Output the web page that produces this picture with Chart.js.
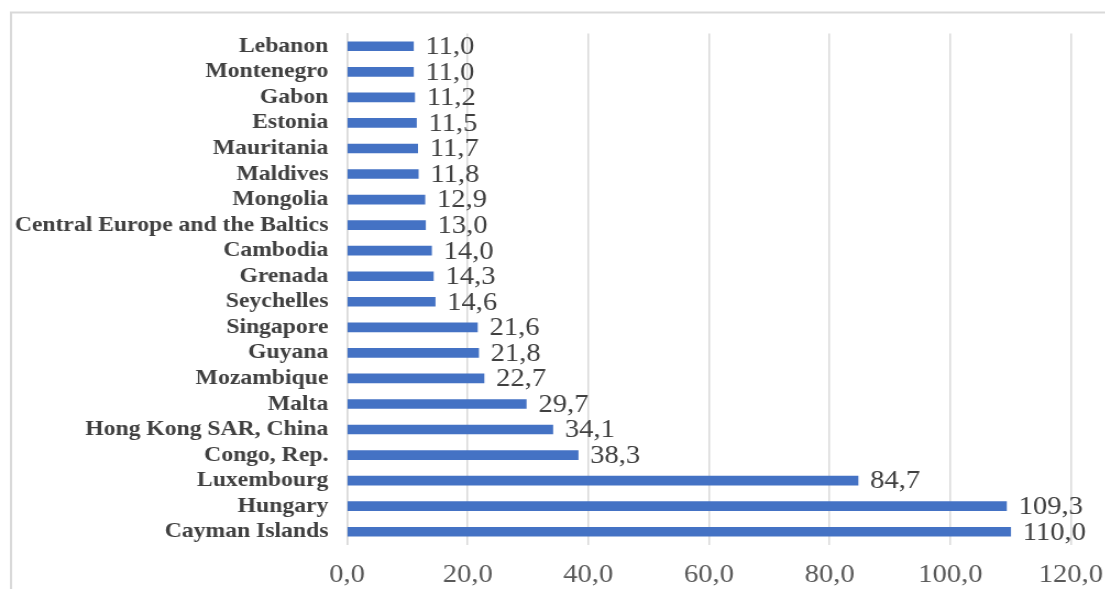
<!DOCTYPE html>
<html>
<head>
<meta charset="utf-8">
<script src="https://cdn.jsdelivr.net/npm/chart.js@4/dist/chart.umd.min.js"></script>
<style>
  html, body { margin: 0; padding: 0; background: #fff; overflow: hidden; }
  #wrap { position: absolute; left: 0; top: 0; width: 1005px; height: 589px;
          transform: scaleX(1.1); transform-origin: 0 0; }
</style>
</head>
<body>
<div id="wrap"><canvas id="c"></canvas></div>
<script>
const categories = [
  'Lebanon', 'Montenegro', 'Gabon', 'Estonia', 'Mauritania', 'Maldives',
  'Mongolia', 'Central Europe and the Baltics', 'Cambodia', 'Grenada',
  'Seychelles', 'Singapore', 'Guyana', 'Mozambique', 'Malta',
  'Hong Kong SAR, China', 'Congo, Rep.', 'Luxembourg', 'Hungary', 'Cayman Islands'
];
const values = [
  11.0, 11.0, 11.2, 11.5, 11.7, 11.8,
  12.9, 13.0, 14.0, 14.3,
  14.6, 21.6, 21.8, 22.7, 29.7,
  34.1, 38.3, 84.7, 109.3, 110.0
];
const xTickValues = [0, 20, 40, 60, 80, 100, 120];
const xTickLabels = ['0,0', '20,0', '40,0', '60,0', '80,0', '100,0', '120,0'];

const FONT = '"Liberation Serif", "Times New Roman", serif';
const fmt = v => v.toFixed(1).replace('.', ',');

const framePlugin = {
  id: 'frame',
  beforeDraw(chart) {
    const ctx = chart.ctx;
    ctx.save();
    ctx.strokeStyle = '#d9d9d9';
    ctx.lineWidth = 2;
    ctx.strokeRect(10, 12.5, 1200, 1000);
    ctx.restore();
  }
};

const labelPlugin = {
  id: 'valueLabels',
  afterDatasetsDraw(chart) {
    const ctx = chart.ctx;
    const meta = chart.getDatasetMeta(0);
    ctx.save();
    ctx.font = '26px ' + FONT;
    ctx.fillStyle = '#404040';
    ctx.textAlign = 'left';
    ctx.textBaseline = 'middle';
    meta.data.forEach((bar, i) => {
      ctx.fillText(fmt(values[i]), bar.x + 11, bar.y + 1);
    });
    ctx.restore();
  }
};

new Chart(document.getElementById('c'), {
  type: 'bar',
  data: {
    labels: categories,
    datasets: [{
      data: values,
      backgroundColor: '#4472C4',
      borderWidth: 0,
      barThickness: 9
    }]
  },
  options: {
    indexAxis: 'y',
    responsive: true,
    maintainAspectRatio: false,
    animation: false,
    layout: { padding: { top: 33.5, right: 31.4, bottom: 0, left: 0 } },
    plugins: { legend: { display: false }, tooltip: { enabled: false } },
    scales: {
      x: {
        min: 0, max: 120,
        afterBuildTicks(scale) { scale.ticks = xTickValues.map(v => ({ value: v })); },
        afterFit(scale) {
          scale.height = 44.5;
          scale.paddingLeft = 0;
          scale.paddingRight = 0;
        },
        grid: { color: '#d9d9d9', lineWidth: 1.5, drawTicks: false },
        border: { display: false },
        ticks: {
          padding: 15,
          color: '#595959',
          font: { family: FONT, size: 26 },
          callback: (v, i) => xTickLabels[i]
        }
      },
      y: {
        afterFit(scale) { scale.width = 315.5; },
        grid: { display: false, drawTicks: false },
        border: { display: true, color: '#d9d9d9', width: 1.5 },
        ticks: {
          padding: 17,
          color: '#404040',
          autoSkip: false,
          font: { family: FONT, size: 21.5, weight: 'bold' }
        }
      }
    }
  },
  plugins: [framePlugin, labelPlugin]
});
</script>
</body>
</html>
